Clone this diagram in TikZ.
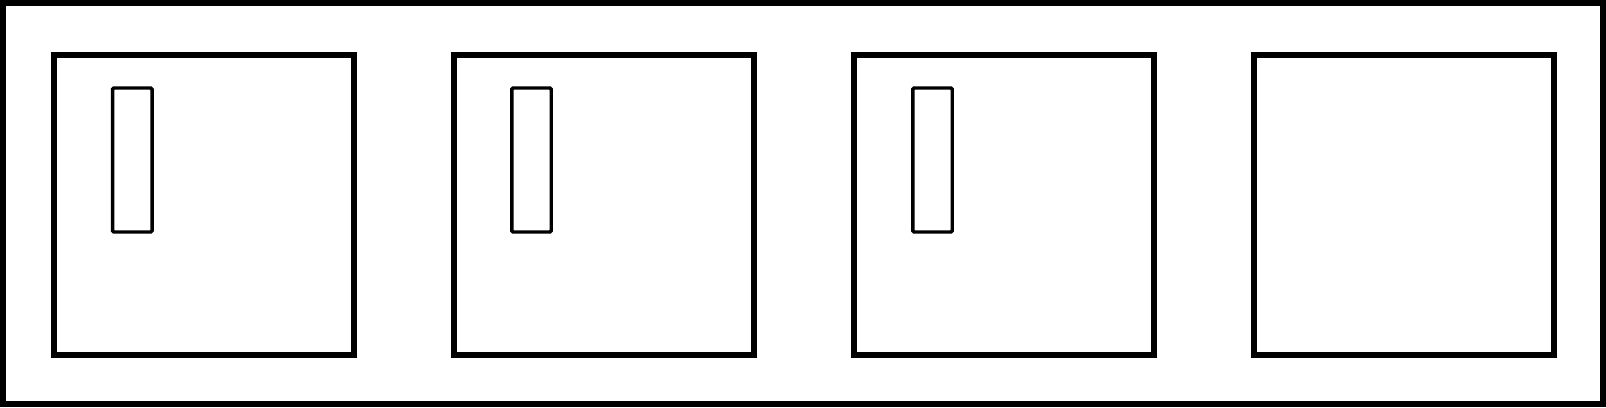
\documentclass[tikz,border=0pt]{standalone}
\begin{document}
\begin{tikzpicture}[x=0.75pt,y=-0.75pt,
  frame/.style={draw=black,line width=4.5pt,inner sep=0pt,outer sep=0pt,minimum width=1200pt,minimum height=300.4pt},
  bigbox/.style={draw=black,line width=4.5pt,inner sep=0pt,outer sep=0pt,minimum width=225pt,minimum height=225pt},
  slot/.style={draw=black,line width=2.6pt,inner sep=0pt,outer sep=0pt,rounded corners=1pt,minimum width=29.6pt,minimum height=108pt}]
\useasboundingbox (0,0) rectangle (1606,407);
\node[frame] (outer) at (803,203.7) {};
\node[bigbox] (b1) at (204,204.7) {};
\node[bigbox] (b2) at (604,204.7) {};
\node[bigbox] (b3) at (1004,204.7) {};
\node[bigbox] (b4) at (1404,204.7) {};
\node[slot] (s1) at (132.3,160) {};
\node[slot] (s2) at (531.5,160) {};
\node[slot] (s3) at (932.5,160) {};
\end{tikzpicture}
\end{document}
